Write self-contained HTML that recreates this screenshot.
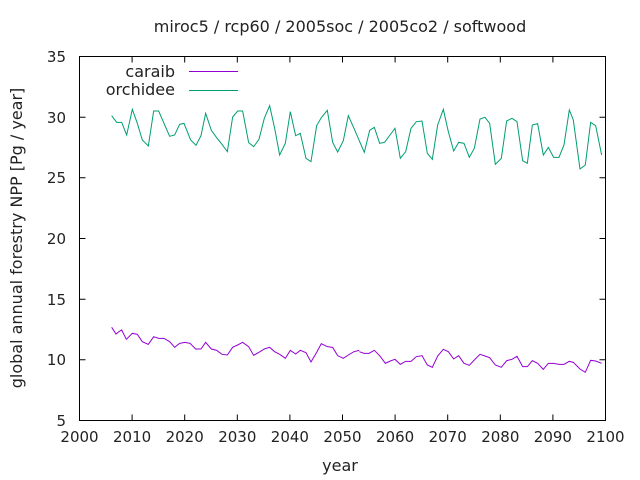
<!DOCTYPE html><html><head><style>body{margin:0;background:#fff}svg{display:block}text{font-family:"DejaVu Sans",sans-serif;font-size:15px;fill:#222}.b{font-size:16px}</style></head><body>
<svg width="640" height="480" viewBox="0 0 640 480">
<rect width="640" height="480" fill="#fff"/>
<text class="b" x="340" y="32" text-anchor="middle">miroc5 / rcp60 / 2005soc / 2005co2 / softwood</text>
<g stroke="#000" stroke-width="1" fill="none">
<rect x="79.5" y="56.5" width="526" height="364"/>
<path d="M79.5 420.5h6M605.5 420.5h-6M79.5 359.8h6M605.5 359.8h-6M79.5 299.2h6M605.5 299.2h-6M79.5 238.5h6M605.5 238.5h-6M79.5 177.8h6M605.5 177.8h-6M79.5 117.2h6M605.5 117.2h-6M79.5 56.5h6M605.5 56.5h-6"/>
<path d="M79.5 420.5v-6M79.5 56.5v6M132.1 420.5v-6M132.1 56.5v6M184.7 420.5v-6M184.7 56.5v6M237.3 420.5v-6M237.3 56.5v6M289.9 420.5v-6M289.9 56.5v6M342.5 420.5v-6M342.5 56.5v6M395.1 420.5v-6M395.1 56.5v6M447.7 420.5v-6M447.7 56.5v6M500.3 420.5v-6M500.3 56.5v6M552.9 420.5v-6M552.9 56.5v6M605.5 420.5v-6M605.5 56.5v6"/>
</g>
<g text-anchor="end">
<text x="66" y="426">5</text><text x="66" y="365">10</text><text x="66" y="305">15</text><text x="66" y="244">20</text><text x="66" y="183">25</text><text x="66" y="123">30</text><text x="66" y="62">35</text>
</g>
<g text-anchor="middle">
<text x="79.5" y="442">2000</text><text x="132.1" y="442">2010</text><text x="184.7" y="442">2020</text><text x="237.3" y="442">2030</text><text x="289.9" y="442">2040</text><text x="342.5" y="442">2050</text><text x="395.1" y="442">2060</text><text x="447.7" y="442">2070</text><text x="500.3" y="442">2080</text><text x="552.9" y="442">2090</text><text x="605.5" y="442">2100</text>
<text class="b" x="340" y="471">year</text>
<text class="b" transform="translate(22 238) rotate(-90)">global annual forestry NPP [Pg / year]</text>
</g>
<text class="b" x="175" y="77" text-anchor="end">caraib</text>
<text class="b" x="175" y="95" text-anchor="end">orchidee</text>
<line x1="189" y1="71.5" x2="238" y2="71.5" stroke="#9400d3"/>
<line x1="189" y1="90.5" x2="238" y2="90.5" stroke="#009e73"/>
<g fill="none" stroke="#009e73" stroke-width="3">
<polyline transform="translate(100 95) scale(0.3333)" points="35,62 50,82 65,82 80,120 97,43 112,85 127,135 145,153 161,48 176,48 192,85 209,124 224,120 239,88 252,85 272,135 288,151 303,122 317,55 334,106 350,128 366,148 382,170 398,66 413,48 428,48 446,143 461,155 477,133 493,70 509,32 524,100 539,180 556,145 571,50 587,122 601,115 618,190 633,200 650,92 664,68 682,46 698,142 713,171 730,137 745,62 762,100 780,142"/>
<polyline transform="translate(350 95) scale(0.3333)" points="29,140 43,172 59,106 73,97 89,145 104,142 120,120 135,100 151,190 167,170 183,100 199,80 216,78 232,175 247,193 263,90 280,43 295,110 311,168 326,142 342,145 358,187 373,160 390,72 405,67 419,85 436,208 454,190 470,78 486,70 501,80 518,197 532,205 547,90 563,86 580,180 595,157 611,187 627,187 642,150 658,45 670,75 690,222 706,210 722,82 737,92 755,180"/>
</g>
<g fill="none" stroke="#9400d3" stroke-width="3">
<polyline transform="translate(100 315) scale(0.3333)" points="35,37 48,57 57,50 65,45 79,73 97,55 112,58 127,80 145,88 161,65 176,70 192,70 209,80 224,97 239,85 255,82 270,85 287,102 303,102 317,82 334,102 350,106 366,118 382,120 398,97 413,90 428,82 446,95 461,121 477,112 493,102 509,97 524,110 539,118 556,130 571,106 587,117 601,106 618,113 633,141 650,112 664,86 682,95 698,97 713,122 730,130 745,120 762,110 778,106"/>
<polyline transform="translate(350 315) scale(0.3333)" points="28,110 42,115 57,115 73,106 89,122 106,145 121,138 135,133 151,148 167,139 183,139 199,125 216,122 232,150 247,157 263,123 280,103 295,110 311,132 326,122 342,145 358,151 373,135 390,118 405,123 419,128 436,150 454,157 470,137 486,133 501,124 518,155 532,155 547,137 563,145 580,163 595,145 611,145 627,148 642,148 658,139 670,142 690,162 706,172 722,136 737,138 755,145"/>
</g>
</svg>
</body></html>
